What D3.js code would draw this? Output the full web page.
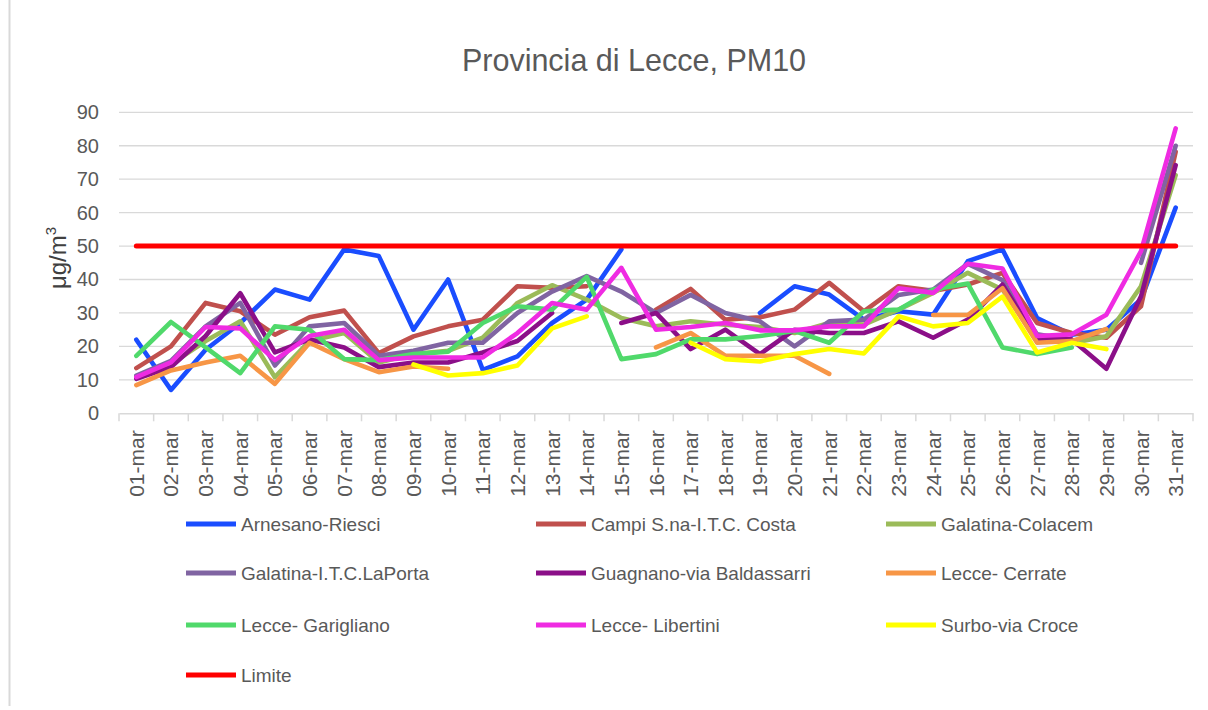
<!DOCTYPE html>
<html>
<head>
<meta charset="utf-8">
<script src="https://cdn.jsdelivr.net/npm/d3@7"></script>
<style>
  html, body { margin: 0; padding: 0; background: #fff; }
  svg { display: block; }
  text { font-family: "Liberation Sans", Arial, sans-serif; }
</style>
</head>
<body>
<svg id="chart" width="1208" height="710"></svg>
<script>
const days = ["01-mar","02-mar","03-mar","04-mar","05-mar","06-mar","07-mar","08-mar","09-mar","10-mar",
  "11-mar","12-mar","13-mar","14-mar","15-mar","16-mar","17-mar","18-mar","19-mar","20-mar",
  "21-mar","22-mar","23-mar","24-mar","25-mar","26-mar","27-mar","28-mar","29-mar","30-mar","31-mar"];

const yTicks = [0,10,20,30,40,50,60,70,80,90];

const arnesano   = [22,7,19,27,37,34,49,47,25,40,13,17,27,34,49,null,null,null,30,38,35.5,28,30.5,29.5,45.5,49,28.5,23.5,25,34,61.5];
const campi      = [13.5,20,33,30.5,23.5,28.7,30.7,18,23,26,28,38,37.5,38,null,31,37.2,28,28.7,31,39,30.5,38,36.6,38.5,42,27,24,22.6,32,78.2];
const colacem    = [11,14.7,21.6,27.5,10.8,21.6,24,15.2,17.7,18.7,22.6,33,38.3,34,28.5,26,27.5,26.5,25.8,24,27,26.5,31,36,42,37,22,21,23,38,71.2];
const laporta    = [11.3,15.7,26,33,14.3,26,27,17.2,18.7,21.1,21.1,30,36.4,41,36.4,30,35.4,30,27.5,20,27.5,28,35.4,37,44.7,39.8,23.6,22,null,45,80];
const guagnano   = [10.3,13.8,23.1,35.9,18.2,22.1,19.7,13.8,15.2,15.2,18.2,21.6,30,null,27,30,19.2,25,17.7,25,24,24,27.5,22.6,28,38.5,22.1,22.1,13.3,35,74.2];
const cerrate    = [8.4,12.8,15.2,17.2,8.8,21.1,16.2,12.3,14,13.3,null,null,null,null,null,19.7,24,17.2,17.2,17.2,11.8,null,null,29.4,29.4,37.4,21.1,21.6,25.2,null,null];
const garigliano = [17.2,27.3,19.7,12,26,25,16.2,15.9,17.7,18.4,27,32,31,40.8,16.2,17.7,22.1,22.1,23.1,24.6,21.1,30.5,31,37,38.8,19.7,17.7,19.7,null,null,null];
const libertini  = [10.8,15.2,25.8,25.4,15.9,23.1,25,15.9,16.7,16.7,16.7,24,33,31,43.5,25,25.8,27,24.8,24.8,26,26,37.4,36,44.7,43.3,23.1,23.6,29.5,48.5,85.2];
const surbo      = [null,null,null,null,null,null,null,null,14.6,11.3,12,14.3,25.4,29,null,null,21.1,16.2,15.5,17.7,19.2,17.9,29,26,27,34.9,18.2,21.1,19.2,null,null];
const limite     = [50,50,50,50,50,50,50,50,50,50,50,50,50,50,50,50,50,50,50,50,50,50,50,50,50,50,50,50,50,50,50];

const seriesNames = ["Arnesano-Riesci","Campi S.na-I.T.C. Costa","Galatina-Colacem","Galatina-I.T.C.LaPorta",
  "Guagnano-via Baldassarri","Lecce- Cerrate","Lecce- Garigliano","Lecce- Libertini","Surbo-via Croce","Limite"];
const seriesValues = [arnesano, campi, colacem, laporta, guagnano, cerrate, garigliano, libertini, surbo, limite];
const seriesColors = ["#1A4DFF","#C0504D","#9BBB59","#8064A2","#8B0F88","#F79646","#50D96B","#EF2BE2","#FFFF00","#FF0000"];

const svg = d3.select("#chart");
svg.append("rect").attr("width",1208).attr("height",710).attr("fill","#fff");

// outer frame edge
svg.append("line").attr("x1",9.5).attr("x2",9.5).attr("y1",0).attr("y2",706).attr("stroke","#d9d9d9").attr("stroke-width",2);

const plotLeft = 119, plotRight = 1193, plotTop = 112.3, plotBottom = 413.3;

const x = d3.scaleBand().domain(days).range([plotLeft, plotRight]).paddingInner(0).paddingOuter(0);
const y = d3.scaleLinear().domain([0, 90]).range([plotBottom, plotTop]);
const cx = d => x(d) + x.bandwidth()/2;

// gridlines
svg.append("g").selectAll("line").data(yTicks.filter(v => v > 0)).join("line")
  .attr("x1", plotLeft).attr("x2", plotRight)
  .attr("y1", d => y(d)).attr("y2", d => y(d))
  .attr("stroke", "#d9d9d9").attr("stroke-width", 1.3);

// y axis labels
const yAxis = d3.axisLeft(y).tickValues(yTicks).tickSize(0).tickPadding(20);
const gy = svg.append("g").attr("transform", `translate(${plotLeft},0)`).call(yAxis);
gy.select(".domain").remove();
gy.selectAll("text").attr("font-size", 20).attr("fill", "#595959")
  .attr("font-family", "Liberation Sans, Arial, sans-serif");

// x axis
const xAxis = d3.axisBottom(x).tickSize(0).tickFormat(d => d);
const gx = svg.append("g").attr("transform", `translate(0,${plotBottom})`).call(xAxis);
gx.select(".domain").attr("stroke", "#d9d9d9").attr("stroke-width", 1.5);
gx.selectAll("text")
  .attr("font-size", 21).attr("fill", "#595959")
  .attr("font-family", "Liberation Sans, Arial, sans-serif")
  .attr("text-anchor", "end")
  .attr("dy", null)
  .attr("transform", `translate(7.5,17) rotate(-90)`)
  .attr("x", 0).attr("y", 0);
// category boundary ticks
const bounds = days.map(d => x(d)).concat([plotRight]);
svg.append("g").selectAll("line").data(bounds).join("line")
  .attr("x1", d => d).attr("x2", d => d)
  .attr("y1", plotBottom).attr("y2", plotBottom + 8)
  .attr("stroke", "#d9d9d9").attr("stroke-width", 1.5);

// lines
const line = d3.line()
  .defined(d => d.v !== null)
  .x(d => cx(d.day))
  .y(d => y(d.v));

seriesValues.forEach((vals, i) => {
  const pts = days.map((day, j) => ({day, v: vals[j]}));
  svg.append("path").datum(pts)
    .attr("d", line)
    .attr("fill", "none")
    .attr("stroke", seriesColors[i])
    .attr("stroke-width", i === 9 ? 5 : 4.6)
    .attr("stroke-linejoin", "round")
    .attr("stroke-linecap", "round");
});

// title
svg.append("text").attr("x", 634).attr("y", 71).attr("text-anchor", "middle")
  .attr("font-size", 30.5).attr("fill", "#595959").text("Provincia di Lecce, PM10");

// y axis title
const yt = svg.append("text").attr("transform", "translate(66,258) rotate(-90)")
  .attr("text-anchor", "middle").attr("font-size", 24).attr("fill", "#404040");
yt.append("tspan").text("μg/m");
yt.append("tspan").attr("font-size", 15).attr("dy", -10).text("3");

// legend
const colX = [186, 536, 886];
const rowY = [524, 573, 625, 675];
const lg = svg.append("g");
seriesNames.forEach((name, i) => {
  const cxl = colX[i % 3], cyl = rowY[Math.floor(i / 3)];
  lg.append("line").attr("x1", cxl).attr("x2", cxl + 50).attr("y1", cyl).attr("y2", cyl)
    .attr("stroke", seriesColors[i]).attr("stroke-width", 5);
  lg.append("text").attr("x", cxl + 55).attr("y", cyl).attr("dominant-baseline", "central")
    .attr("font-size", 19).attr("fill", "#595959").text(name);
});
</script>
</body>
</html>
